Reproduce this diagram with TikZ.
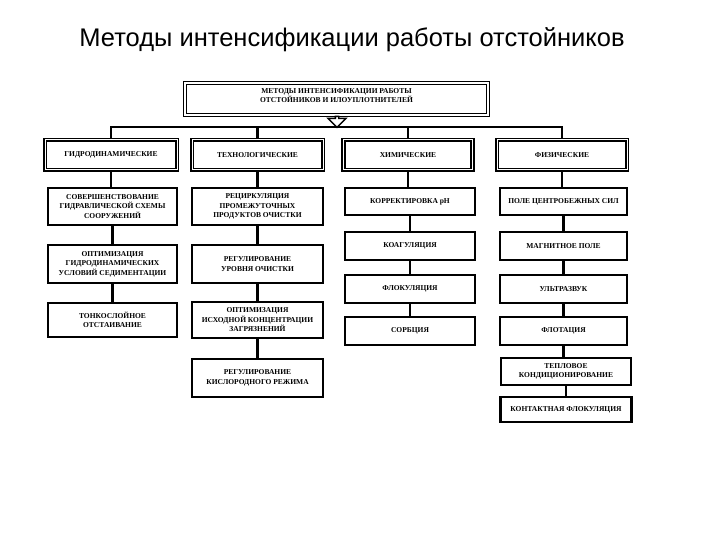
\documentclass[tikz,border=0pt]{standalone}
\usepackage{fontspec}
\setmainfont{Liberation Serif}
\newfontfamily\titlefont{Liberation Sans}
\usetikzlibrary{shapes.arrows}
\begin{document}
\begin{tikzpicture}[x=1pt,y=-1pt,
  box/.style={draw, line width=2.4pt, align=center, inner sep=1pt,
    font=\bfseries\fontsize{7.5}{9.5}\selectfont, minimum width=129pt},
  hdr/.style={box, double, line width=1.8pt, double distance=1pt, minimum height=30pt},
  conn/.style={line width=2.4pt},
  thinconn/.style={line width=1.6pt}]
\useasboundingbox[fill=white] (0,0) rectangle (720,540);

\node[font=\titlefont\fontsize{25.5}{30}\selectfont] (title) at (352,40) {Методы интенсификации работы отстойников};

\node[draw, double, line width=1.4pt, double distance=1.8pt, minimum width=303pt, minimum height=32pt,
  align=center, text depth=6pt, font=\bfseries\fontsize{7.5}{9}\selectfont] (top) at (336.5,99)
  {МЕТОДЫ ИНТЕНСИФИКАЦИИ РАБОТЫ\\ОТСТОЙНИКОВ И ИЛОУПЛОТНИТЕЛЕЙ};

\node[draw, single arrow, shape border rotate=270, minimum height=11pt, minimum width=18pt,
  single arrow head extend=3pt, inner sep=0pt, line width=1.4pt] (arr) at (337,121) {};

% headers
\node[hdr, minimum width=132pt] (h1) at (111,155) {ГИДРОДИНАМИЧЕСКИЕ};
\node[hdr, minimum width=131pt] (h2) at (257.5,155) {ТЕХНОЛОГИЧЕСКИЕ};
\node[hdr, minimum width=129pt] (h3) at (408,155) {ХИМИЧЕСКИЕ};
\node[hdr, minimum width=130pt] (h4) at (562,155) {ФИЗИЧЕСКИЕ};

% column 1
\node[box, minimum height=37pt] (c11) at (112.5,206.5) {СОВЕРШЕНСТВОВАНИЕ\\ГИДРАВЛИЧЕСКОЙ СХЕМЫ\\СООРУЖЕНИЙ};
\node[box, minimum height=38pt] (c12) at (112.5,264) {ОПТИМИЗАЦИЯ\\ГИДРОДИНАМИЧЕСКИХ\\УСЛОВИЙ СЕДИМЕНТАЦИИ};
\node[box, minimum height=34pt] (c13) at (112.5,320) {ТОНКОСЛОЙНОЕ\\ОТСТАИВАНИЕ};

% column 2
\node[box, minimum width=131pt, minimum height=37pt] (c21) at (257.5,206.5) {РЕЦИРКУЛЯЦИЯ\\ПРОМЕЖУТОЧНЫХ\\ПРОДУКТОВ ОЧИСТКИ};
\node[box, minimum width=131pt, minimum height=38pt] (c22) at (257.5,264) {РЕГУЛИРОВАНИЕ\\УРОВНЯ ОЧИСТКИ};
\node[box, minimum width=131pt, minimum height=36pt] (c23) at (257.5,320) {ОПТИМИЗАЦИЯ\\ИСХОДНОЙ КОНЦЕНТРАЦИИ\\ЗАГРЯЗНЕНИЙ};
\node[box, minimum width=131pt, minimum height=38pt] (c24) at (257.5,378) {РЕГУЛИРОВАНИЕ\\КИСЛОРОДНОГО РЕЖИМА};

% column 3
\node[box, minimum width=130pt, minimum height=27pt] (c31) at (410,201.5) {КОРРЕКТИРОВКА pH};
\node[box, minimum width=130pt, minimum height=28pt] (c32) at (410,246) {КОАГУЛЯЦИЯ};
\node[box, minimum width=130pt, minimum height=28pt] (c33) at (410,289) {ФЛОКУЛЯЦИЯ};
\node[box, minimum width=130pt, minimum height=28pt] (c34) at (410,331) {СОРБЦИЯ};

% column 4
\node[box, minimum width=127pt, minimum height=27pt] (c41) at (563.5,201.5) {ПОЛЕ ЦЕНТРОБЕЖНЫХ СИЛ};
\node[box, minimum width=127pt, minimum height=28pt] (c42) at (563.5,246) {МАГНИТНОЕ ПОЛЕ};
\node[box, minimum width=127pt, minimum height=28pt] (c43) at (563.5,289) {УЛЬТРАЗВУК};
\node[box, minimum width=127pt, minimum height=28pt] (c44) at (563.5,331) {ФЛОТАЦИЯ};
\node[box, minimum width=130pt, minimum height=27pt] (c45) at (566,371.5) {ТЕПЛОВОЕ\\КОНДИЦИОНИРОВАНИЕ};
\node[box, minimum width=131pt, minimum height=25pt] (c46) at (566,409.5) {КОНТАКТНАЯ ФЛОКУЛЯЦИЯ};

% bus
\coordinate (bus) at (337,127);
\draw[conn] (h1.north) |- (bus) -| (h4.north);
\draw[conn] (h2.north) -- (h2.north |- bus);
\draw[conn] (h3.north) -- (h3.north |- bus);

% column connectors
\draw[conn] (h1.south) -- (h1.south |- c11.north);
\draw[conn] (c11.south) -- (c12.north);
\draw[conn] (c12.south) -- (c13.north);

\draw[conn] (h2.south) -- (h2.south |- c21.north);
\draw[conn] (c21.south) -- (c22.north);
\draw[conn] (c22.south) -- (c23.north);
\draw[conn] (c23.south) -- (c24.north);

\draw[conn] (h3.south) -- (h3.south |- c31.north);
\draw[thinconn] (c31.south) -- (c32.north);
\draw[thinconn] (c32.south) -- (c33.north);
\draw[thinconn] (c33.south) -- (c34.north);

\draw[conn] (h4.south) -- (h4.south |- c41.north);
\draw[conn] (c41.south) -- (c42.north);
\draw[conn] (c42.south) -- (c43.north);
\draw[conn] (c43.south) -- (c44.north);
\draw[conn] (c44.south) -- (c44.south |- c45.north);
\draw[conn] (c45.south) -- (c46.north);
\end{tikzpicture}
\end{document}
